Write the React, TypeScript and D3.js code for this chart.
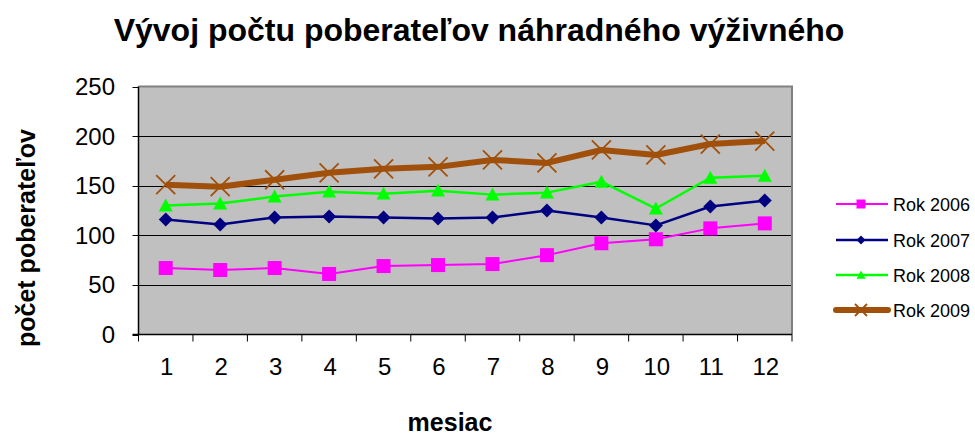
import React from "react";
import * as d3 from "d3";

const months = ["1", "2", "3", "4", "5", "6", "7", "8", "9", "10", "11", "12"];
const rok2006 = [67, 65, 67, 61, 69, 70, 71, 80, 92, 96, 107, 112];
const rok2007 = [116, 111, 118, 119, 118, 117, 118, 125, 118, 110, 129, 135];
const rok2008 = [130, 132, 139, 144, 142, 145, 141, 143, 154, 127, 158, 160];
const rok2009 = [151, 149, 156, 163, 167, 169, 176, 173, 186, 181, 192, 195];
const yTicks = [0, 50, 100, 150, 200, 250];
const seriesNames = ["Rok 2006", "Rok 2007", "Rok 2008", "Rok 2009"];

const W = 975;
const H = 435;
const left = 138.5;
const right = 792;
const top = 86.5;
const bottom = 334.5;
const FONT = "'Liberation Sans', Arial, sans-serif";

type Marker = "square" | "diamond" | "triangle" | "x";
const styles: { color: string; width: number; marker: Marker }[] = [
  { color: "#FF00FF", width: 2, marker: "square" },
  { color: "#000080", width: 2.5, marker: "diamond" },
  { color: "#00FF00", width: 2.5, marker: "triangle" },
  { color: "#A0500A", width: 6, marker: "x" },
];

function MarkerShape({ kind, x, y, color, s }: { kind: Marker; x: number; y: number; color: string; s: number }) {
  if (kind === "square") {
    return <rect x={x - s / 2} y={y - s / 2} width={s} height={s} fill={color} />;
  }
  if (kind === "diamond") {
    const r = s / 2;
    return <path d={`M${x},${y - r}L${x + r},${y}L${x},${y + r}L${x - r},${y}Z`} fill={color} />;
  }
  if (kind === "triangle") {
    const r = s / 2;
    return <path d={`M${x},${y - r}L${x + r},${y + r * 0.85}L${x - r},${y + r * 0.85}Z`} fill={color} />;
  }
  const r = s / 2;
  return (
    <path
      d={`M${x - r},${y - r}L${x + r},${y + r}M${x - r},${y + r}L${x + r},${y - r}`}
      stroke={color}
      strokeWidth={1.8}
      fill="none"
    />
  );
}

export default function App() {
  const x = d3.scaleBand<string>().domain(months).range([left, right]);
  const y = d3.scaleLinear().domain([0, 250]).range([bottom, top]);
  const data = [rok2006, rok2007, rok2008, rok2009];
  const line = d3
    .line<number>()
    .x((_, i) => (x(months[i]) as number) + x.bandwidth() / 2)
    .y((d) => y(d));
  const markerSize = [14, 14, 14, 19];
  const legendY = [204, 240, 275, 310];

  return (
    <svg width={W} height={H} style={{ position: "absolute", left: 0, top: 0, fontFamily: FONT }}>
      <rect x={0} y={0} width={W} height={H} fill="#fff" />
      <text x={479} y={41} textAnchor="middle" fontSize={32} fontWeight="bold" fill="#000">
        Vývoj počtu poberateľov náhradného výživného
      </text>
      {/* plot area */}
      <rect x={left} y={top} width={right - left} height={bottom - top} fill="#C0C0C0" />
      {yTicks.slice(1, -1).map((t) => (
        <line key={t} x1={left} x2={right} y1={Math.round(y(t)) + 0.5} y2={Math.round(y(t)) + 0.5} stroke="#000" strokeWidth={1} />
      ))}
      <path d={`M${left},${top}L${right},${top}L${right},${bottom}`} stroke="#808080" strokeWidth={2} fill="none" />
      {/* y axis */}
      <line x1={left} x2={left} y1={top} y2={bottom} stroke="#000" strokeWidth={1.5} />
      {yTicks.map((t) => (
        <g key={t}>
          <line x1={left - 6} x2={left} y1={Math.round(y(t)) + 0.5} y2={Math.round(y(t)) + 0.5} stroke="#000" />
          <text x={115} y={y(t) + 8.5} textAnchor="end" fontSize={24} fill="#000">
            {t}
          </text>
        </g>
      ))}
      {/* x axis */}
      <line x1={left - 6} x2={right} y1={bottom} y2={bottom} stroke="#000" strokeWidth={1.5} />
      {months.map((m) => (
        <line key={"t" + m} x1={x(m) as number} x2={x(m) as number} y1={bottom} y2={bottom + 7} stroke="#000" />
      ))}
      <line x1={right} x2={right} y1={bottom} y2={bottom + 7} stroke="#000" />
      {months.map((m) => (
        <text key={m} x={(x(m) as number) + x.bandwidth() / 2 + 1} y={375} textAnchor="middle" fontSize={24} fill="#000">
          {m}
        </text>
      ))}
      {/* series */}
      {data.map((vals, si) => (
        <g key={si}>
          <path d={line(vals) || ""} stroke={styles[si].color} strokeWidth={styles[si].width} fill="none" strokeLinejoin="round" />
          {vals.map((v, i) => (
            <MarkerShape
              key={i}
              kind={styles[si].marker}
              x={(x(months[i]) as number) + x.bandwidth() / 2}
              y={y(v)}
              color={styles[si].color}
              s={markerSize[si]}
            />
          ))}
        </g>
      ))}
      {/* axis titles */}
      <text transform={`translate(35,238) rotate(-90)`} textAnchor="middle" fontSize={25} fontWeight="bold" fill="#000">
        počet poberateľov
      </text>
      <text x={450} y={431} textAnchor="middle" fontSize={25} fontWeight="bold" fill="#000">
        mesiac
      </text>
      {/* legend */}
      {seriesNames.map((n, si) => (
        <g key={n}>
          <line
            x1={836}
            x2={888}
            y1={legendY[si]}
            y2={legendY[si]}
            stroke={styles[si].color}
            strokeWidth={styles[si].width}
            strokeLinecap={si === 3 ? "round" : "butt"}
          />
          <MarkerShape kind={styles[si].marker} x={861} y={legendY[si]} color={styles[si].color} s={si === 3 ? 12 : 9} />
          <text x={893} y={legendY[si] + 6.5} fontSize={18} fill="#000">
            {n}
          </text>
        </g>
      ))}
    </svg>
  );
}
